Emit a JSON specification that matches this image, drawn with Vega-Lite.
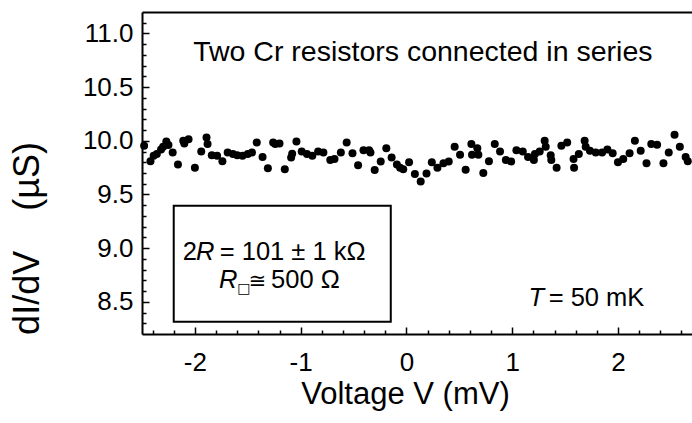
{
  "$schema": "https://vega.github.io/schema/vega-lite/v6.json",
  "width": 550,
  "height": 322,
  "autosize": {"type": "none"},
  "padding": {"left": 142, "top": 12, "right": 0, "bottom": 89},
  "background": "white",
  "config": {
    "view": {"stroke": null},
    "font": "Liberation Sans",
    "axis": {"labelFont": "Liberation Sans", "titleFont": "Liberation Sans", "labelColor": "black", "titleColor": "black", "domainColor": "black", "tickColor": "black", "grid": false, "titleFontWeight": "normal"}
  },
  "datasets": {
    "pts": [
      {"V": -2.48, "G": 9.953}, {"V": -2.42, "G": 9.81}, {"V": -2.39, "G": 9.86}, {"V": -2.36, "G": 9.876},
      {"V": -2.32, "G": 9.92}, {"V": -2.30, "G": 9.944}, {"V": -2.27, "G": 9.993}, {"V": -2.25, "G": 9.96},
      {"V": -2.21, "G": 9.89}, {"V": -2.16, "G": 9.78}, {"V": -2.11, "G": 10.0}, {"V": -2.10, "G": 9.975},
      {"V": -2.06, "G": 10.015}, {"V": -2.00, "G": 9.75}, {"V": -1.94, "G": 9.90}, {"V": -1.89, "G": 10.03},
      {"V": -1.88, "G": 9.97}, {"V": -1.84, "G": 9.866}, {"V": -1.79, "G": 9.86}, {"V": -1.74, "G": 9.81},
      {"V": -1.69, "G": 9.89}, {"V": -1.64, "G": 9.876}, {"V": -1.60, "G": 9.866}, {"V": -1.55, "G": 9.86},
      {"V": -1.50, "G": 9.876}, {"V": -1.46, "G": 9.89}, {"V": -1.415, "G": 9.984}, {"V": -1.36, "G": 9.85},
      {"V": -1.31, "G": 9.745}, {"V": -1.26, "G": 9.984}, {"V": -1.24, "G": 9.97}, {"V": -1.20, "G": 9.975},
      {"V": -1.15, "G": 9.736}, {"V": -1.09, "G": 9.844}, {"V": -1.08, "G": 9.88}, {"V": -1.04, "G": 9.993},
      {"V": -0.99, "G": 9.90}, {"V": -0.94, "G": 9.876}, {"V": -0.89, "G": 9.86}, {"V": -0.835, "G": 9.90},
      {"V": -0.785, "G": 9.89}, {"V": -0.72, "G": 9.82}, {"V": -0.68, "G": 9.83}, {"V": -0.62, "G": 9.89},
      {"V": -0.565, "G": 9.984}, {"V": -0.51, "G": 9.885}, {"V": -0.457, "G": 9.773}, {"V": -0.406, "G": 9.913},
      {"V": -0.353, "G": 9.913}, {"V": -0.34, "G": 9.89}, {"V": -0.30, "G": 9.727}, {"V": -0.243, "G": 9.807},
      {"V": -0.19, "G": 9.93}, {"V": -0.14, "G": 9.844}, {"V": -0.09, "G": 9.78}, {"V": -0.06, "G": 9.75},
      {"V": -0.03, "G": 9.736}, {"V": 0.025, "G": 9.80}, {"V": 0.08, "G": 9.69}, {"V": 0.135, "G": 9.62},
      {"V": 0.19, "G": 9.695}, {"V": 0.24, "G": 9.80}, {"V": 0.293, "G": 9.75}, {"V": 0.35, "G": 9.79},
      {"V": 0.40, "G": 9.807}, {"V": 0.456, "G": 9.944}, {"V": 0.507, "G": 9.87}, {"V": 0.56, "G": 9.73},
      {"V": 0.614, "G": 9.97}, {"V": 0.62, "G": 9.87}, {"V": 0.67, "G": 9.93}, {"V": 0.68, "G": 9.87},
      {"V": 0.727, "G": 9.70}, {"V": 0.78, "G": 9.81}, {"V": 0.835, "G": 9.97}, {"V": 0.885, "G": 9.90},
      {"V": 0.94, "G": 9.82}, {"V": 0.99, "G": 9.807}, {"V": 1.04, "G": 9.913}, {"V": 1.10, "G": 9.90},
      {"V": 1.15, "G": 9.85}, {"V": 1.205, "G": 9.82}, {"V": 1.215, "G": 9.876}, {"V": 1.26, "G": 9.90},
      {"V": 1.307, "G": 10.0}, {"V": 1.317, "G": 9.944}, {"V": 1.364, "G": 9.866}, {"V": 1.37, "G": 9.82},
      {"V": 1.42, "G": 9.75}, {"V": 1.465, "G": 9.953}, {"V": 1.52, "G": 9.984}, {"V": 1.58, "G": 9.83},
      {"V": 1.585, "G": 9.75}, {"V": 1.63, "G": 9.876}, {"V": 1.685, "G": 10.0}, {"V": 1.695, "G": 9.944},
      {"V": 1.735, "G": 9.907}, {"V": 1.79, "G": 9.89}, {"V": 1.85, "G": 9.89}, {"V": 1.90, "G": 9.92},
      {"V": 1.95, "G": 9.885}, {"V": 2.00, "G": 9.80}, {"V": 2.05, "G": 9.83}, {"V": 2.11, "G": 9.885},
      {"V": 2.16, "G": 10.0}, {"V": 2.215, "G": 9.907}, {"V": 2.27, "G": 9.79}, {"V": 2.315, "G": 9.97},
      {"V": 2.37, "G": 9.963}, {"V": 2.43, "G": 9.79}, {"V": 2.48, "G": 9.89}, {"V": 2.535, "G": 10.056},
      {"V": 2.585, "G": 9.944}, {"V": 2.64, "G": 9.85}, {"V": 2.66, "G": 9.81}
    ],
    "box": [{"V1": -2.20, "V2": -0.148, "G1": 8.314, "G2": 9.394}],
    "topnote": [{"text": "Two Cr resistors connected in series", "V": 0.155, "G": 10.83}],
    "plain": [
      {"text": "2", "V": -2.114, "G": 8.89},
      {"text": "= 101 ± 1 kΩ", "V": -1.765, "G": 8.89},
      {"text": "500 Ω", "V": -1.28, "G": 8.626},
      {"text": "= 50 mK", "V": 1.345, "G": 8.46}
    ],
    "ital": [
      {"text": "R", "V": -1.99, "G": 8.89},
      {"text": "R", "V": -1.773, "G": 8.626},
      {"text": "T", "V": 1.155, "G": 8.46}
    ],
    "sym": [{"text": "≅", "V": -1.49, "G": 8.626}],
    "sub": [{"text": "□", "V": -1.60, "G": 8.58}]
  },
  "resolve": {"axis": {"x": "independent", "y": "independent"}},
  "layer": [
    {
      "data": {"name": "pts"},
      "mark": {"type": "circle", "size": 64, "color": "black", "opacity": 1},
      "encoding": {
        "x": {"field": "V", "type": "quantitative", "scale": {"domain": [-2.5, 2.7], "nice": false, "zero": false},
          "axis": {"orient": "bottom", "title": "Voltage V (mV)", "values": [-2, -1, 0, 1, 2], "labelExpr": "datum.value + ''",
            "tickSize": -7, "tickWidth": 1.5, "domainWidth": 2, "labelFontSize": 26, "labelPadding": 22, "labelBaseline": "top",
            "titleFontSize": 31, "titleX": 263, "titleY": 60, "titleBaseline": "middle", "titleAnchor": null}},
        "y": {"field": "G", "type": "quantitative", "scale": {"domain": [8.2, 11.2], "nice": false, "zero": false},
          "axis": {"orient": "left", "title": "dI/dV\u00a0\u00a0\u00a0\u00a0(µS)", "values": [8.5, 9.0, 9.5, 10.0, 10.5, 11.0], "format": ".1f",
            "tickSize": -7, "tickWidth": 1.5, "domainWidth": 2, "labelFontSize": 26, "labelPadding": 16,
            "titleFontSize": 36, "titleX": -115, "titleY": 226, "titleBaseline": "middle", "titleAngle": -90}}
      }
    },
    {
      "data": {"name": "box"},
      "mark": {"type": "rect", "fill": null, "fillOpacity": 0, "stroke": "black", "strokeWidth": 2},
      "encoding": {
        "x": {"field": "V1", "type": "quantitative", "axis": null},
        "x2": {"field": "V2"},
        "y": {"field": "G1", "type": "quantitative", "axis": null},
        "y2": {"field": "G2"}
      }
    },
    {
      "data": {"name": "topnote"},
      "mark": {"type": "text", "fontSize": 28.5, "align": "center", "baseline": "middle", "color": "black"},
      "encoding": {
        "x": {"field": "V", "type": "quantitative",
          "axis": {"orient": "top", "title": null, "labels": false, "ticks": false, "domain": true, "domainWidth": 2}},
        "y": {"field": "G", "type": "quantitative", "axis": null},
        "text": {"field": "text"}
      }
    },
    {
      "data": {"name": "plain"},
      "mark": {"type": "text", "fontSize": 25.5, "align": "left", "baseline": "alphabetic", "color": "black"},
      "encoding": {
        "x": {"field": "V", "type": "quantitative",
          "axis": {"orient": "bottom", "title": null, "labels": false, "domain": false, "ticks": true, "tickSize": -4, "tickWidth": 1.5,
            "values": [-2.4, -2.2, -1.8, -1.6, -1.4, -1.2, -0.8, -0.6, -0.4, -0.2, 0.2, 0.4, 0.6, 0.8, 1.2, 1.4, 1.6, 1.8, 2.2, 2.4, 2.6]}},
        "y": {"field": "G", "type": "quantitative",
          "axis": {"orient": "left", "title": null, "labels": false, "domain": false, "ticks": true, "tickSize": -4, "tickWidth": 1.5,
            "values": [8.3, 8.4, 8.6, 8.7, 8.8, 8.9, 9.1, 9.2, 9.3, 9.4, 9.6, 9.7, 9.8, 9.9, 10.1, 10.2, 10.3, 10.4, 10.6, 10.7, 10.8, 10.9, 11.1]}},
        "text": {"field": "text"}
      }
    },
    {
      "data": {"name": "ital"},
      "mark": {"type": "text", "fontSize": 25.5, "fontStyle": "italic", "align": "left", "baseline": "alphabetic", "color": "black"},
      "encoding": {
        "x": {"field": "V", "type": "quantitative", "axis": null},
        "y": {"field": "G", "type": "quantitative", "axis": null},
        "text": {"field": "text"}
      }
    },
    {
      "data": {"name": "sym"},
      "mark": {"type": "text", "fontSize": 21, "font": "DejaVu Sans", "align": "left", "baseline": "alphabetic", "color": "black"},
      "encoding": {
        "x": {"field": "V", "type": "quantitative", "axis": null},
        "y": {"field": "G", "type": "quantitative", "axis": null},
        "text": {"field": "text"}
      }
    },
    {
      "data": {"name": "sub"},
      "mark": {"type": "text", "fontSize": 14, "font": "DejaVu Sans", "align": "left", "baseline": "alphabetic", "color": "black"},
      "encoding": {
        "x": {"field": "V", "type": "quantitative", "axis": null},
        "y": {"field": "G", "type": "quantitative", "axis": null},
        "text": {"field": "text"}
      }
    }
  ]
}
